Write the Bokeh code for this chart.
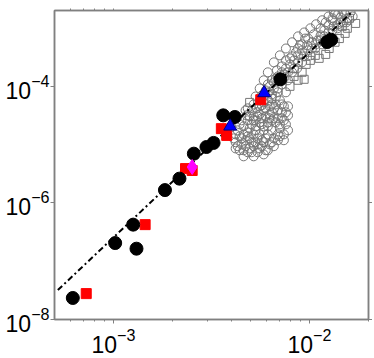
from bokeh.plotting import figure
from bokeh.models import Range1d, FixedTicker, LogAxis, LogTickFormatter, CustomJSTickFormatter
from bokeh.embed import file_html
from bokeh.resources import INLINE

# ---- data ----
x_major = [1e-3, 1e-2]
x_minor = [6e-4, 7e-4, 8e-4, 9e-4, 2e-3, 3e-3, 4e-3, 5e-3, 6e-3, 7e-3, 8e-3, 9e-3, 2e-2]
y_major = [1e-8, 1e-6, 1e-4]

fit_x = [5.2e-4, 1.65e-2]
fit_y = [3.2e-8, 1.9e-3]

black_x = [6.2e-4, 1.02e-3, 1.26e-3, 1.31e-3, 1.83e-3, 2.17e-3, 2.57e-3, 2.98e-3,
           3.24e-3, 3.63e-3, 4.16e-3, 7.1e-3, 1.23e-2, 1.29e-2]
black_y = [2.34e-8, 2.05e-7, 4.24e-7, 1.64e-7, 1.66e-6, 2.61e-6, 7.0e-6, 9.1e-6,
           1.07e-5, 3.18e-5, 2.98e-5, 1.32e-4, 5.75e-4, 6.3e-4]

red_x = [7.26e-4, 1.45e-3, 2.33e-3, 2.52e-3, 3.55e-3, 3.78e-3, 5.64e-3]
red_y = [2.78e-8, 4.24e-7, 3.88e-6, 3.6e-6, 1.88e-5, 1.44e-5, 5.9e-5]

blue_x = [3.94e-3, 5.87e-3]
blue_y = [2.06e-5, 7.7e-5]

magenta_x = [2.52e-3]
magenta_y = [4.13e-6]

gray_circle_x = [
    1.62e-2, 1.52e-2, 1.44e-2, 1.35e-2, 1.31e-2, 1.40e-2, 1.49e-2, 1.25e-2, 1.19e-2,
    1.31e-2, 1.14e-2, 1.23e-2, 1.39e-2, 1.56e-2, 1.10e-2, 1.16e-2, 1.03e-2, 1.07e-2,
    9.73e-3, 9.17e-3, 1.01e-2, 8.74e-3, 8.34e-3, 9.17e-3, 7.95e-3, 7.58e-3, 8.64e-3,
    8.15e-3, 7.40e-3, 7.06e-3, 7.77e-3, 7.23e-3, 6.82e-3, 8.95e-3, 9.50e-3,
    6.58e-3, 6.27e-3, 6.90e-3, 5.98e-3, 6.43e-3, 5.84e-3, 5.57e-3, 6.13e-3, 6.74e-3,
    5.71e-3, 5.38e-3, 5.84e-3, 6.27e-3, 7.06e-3, 7.58e-3, 7.40e-3,
    5.07e-3, 4.78e-3, 4.50e-3, 5.19e-3, 5.57e-3, 5.98e-3, 6.43e-3, 6.90e-3, 7.23e-3,
    6.74e-3, 6.13e-3, 5.57e-3, 5.07e-3, 4.61e-3, 4.30e-3, 4.84e-3, 5.31e-3, 5.84e-3,
    6.43e-3, 7.06e-3, 7.58e-3, 6.58e-3, 5.98e-3, 5.44e-3, 4.95e-3, 4.50e-3, 4.20e-3,
    4.72e-3, 5.19e-3, 5.71e-3, 6.27e-3, 4.40e-3, 4.84e-3, 5.44e-3, 5.98e-3, 4.20e-3,
    6.90e-3, 7.40e-3, 7.77e-3, 5.31e-3, 5.84e-3, 6.43e-3, 4.84e-3, 5.57e-3, 6.13e-3,
    5.07e-3, 4.61e-3,
    4.72e-3, 5.44e-3, 6.27e-3, 7.23e-3, 4.40e-3, 5.31e-3, 6.13e-3, 7.06e-3, 7.77e-3,
    4.10e-3, 4.72e-3, 5.19e-3, 5.71e-3, 6.90e-3, 7.40e-3, 4.50e-3, 4.95e-3, 5.44e-3,
    5.84e-3, 6.58e-3, 4.61e-3, 5.19e-3, 4.30e-3, 5.71e-3, 4.95e-3, 6.58e-3, 7.77e-3,
    5.84e-3, 6.43e-3, 6.90e-3, 6.13e-3, 6.58e-3, 5.57e-3, 7.40e-3, 7.77e-3, 8.34e-3,
    8.74e-3, 9.39e-3, 9.85e-3, 1.03e-2, 1.08e-2, 1.14e-2, 1.19e-2, 1.25e-2, 1.33e-2,
    1.44e-2, 1.54e-2, 1.66e-2, 8.74e-3, 8.15e-3, 7.58e-3, 7.23e-3, 6.90e-3, 6.43e-3,
    6.13e-3, 6.58e-3, 7.06e-3, 7.58e-3, 8.15e-3, 8.74e-3, 9.39e-3, 1.01e-2, 1.08e-2,
    1.16e-2, 1.25e-2, 1.33e-2, 5.84e-3, 5.57e-3, 5.31e-3,
    4.84e-3, 5.19e-3, 5.71e-3, 6.27e-3, 6.90e-3, 7.40e-3, 4.40e-3, 4.84e-3, 5.31e-3,
    5.84e-3, 6.43e-3, 7.06e-3, 4.61e-3, 5.07e-3, 5.57e-3, 6.13e-3, 4.20e-3, 5.44e-3,
    5.98e-3, 6.58e-3, 7.23e-3, 5.19e-3, 4.95e-3, 7.58e-3, 6.74e-3,
    5.71e-3, 6.13e-3, 6.74e-3, 7.23e-3, 7.95e-3, 8.54e-3, 9.17e-3, 9.85e-3, 1.05e-2,
    1.14e-2, 1.21e-2, 1.31e-2, 1.40e-2, 1.50e-2]
gray_circle_y = [
    1.86e-3, 1.72e-3, 1.52e-3, 1.72e-3, 1.36e-3, 1.16e-3, 1.25e-3, 1.11e-3, 9.1e-4,
    9.1e-4, 7.5e-4, 6.6e-4, 9.9e-4, 1.47e-3, 6.15e-4, 5.25e-4, 5.7e-4, 4.46e-4,
    5.05e-4, 4.14e-4, 3.40e-4, 3.40e-4, 2.79e-4, 2.58e-4, 2.38e-4, 2.03e-4, 2.03e-4,
    1.74e-4, 1.61e-4, 1.37e-4, 1.27e-4, 1.08e-4, 1.88e-4, 5.05e-4, 6.6e-4,
    1.17e-4, 1.00e-4, 9.2e-5, 8.5e-5, 7.3e-5, 6.7e-5, 5.75e-5, 5.75e-5, 6.7e-5,
    4.72e-5, 4.2e-5, 3.88e-5, 4.54e-5, 5.75e-5, 7.9e-5, 4.54e-5,
    3.88e-5, 3.18e-5, 2.61e-5, 3.06e-5, 3.31e-5, 3.06e-5, 3.58e-5, 3.88e-5, 2.83e-5,
    2.41e-5, 2.41e-5, 2.41e-5, 2.23e-5, 2.06e-5, 1.76e-5, 1.62e-5, 1.76e-5, 1.76e-5,
    1.76e-5, 1.90e-5, 2.23e-5, 1.28e-5, 1.28e-5, 1.28e-5, 1.28e-5, 1.28e-5, 1.10e-5,
    9.4e-6, 9.4e-6, 9.4e-6, 1.01e-5, 8.0e-6, 7.4e-6, 7.4e-6, 8.0e-6, 1.50e-5,
    1.19e-5, 1.50e-5, 3.18e-5, 2.61e-5, 2.06e-5, 2.61e-5, 2.61e-5, 1.50e-5, 1.50e-5,
    1.10e-5, 1.50e-5,
    3.88e-5, 3.58e-5, 3.31e-5, 3.58e-5, 2.23e-5, 2.06e-5, 2.06e-5, 2.23e-5, 1.76e-5,
    1.28e-5, 1.19e-5, 1.50e-5, 1.19e-5, 1.50e-5, 1.19e-5, 1.01e-5, 8.6e-6, 1.01e-5,
    6.8e-6, 9.4e-6, 6.3e-6, 6.3e-6, 9.4e-6, 2.83e-5, 1.90e-5, 2.83e-5, 4.54e-5,
    5.3e-5, 4.9e-5, 7.9e-5, 7.9e-5, 9.2e-5, 4.54e-5, 1.37e-4, 1.74e-4, 2.03e-4,
    2.58e-4, 3.27e-4, 4.14e-4, 4.46e-4, 5.25e-4, 6.15e-4, 7.2e-4, 8.4e-4, 1.07e-3,
    1.25e-3, 1.25e-3, 1.58e-3, 4.46e-4, 3.27e-4, 2.79e-4, 2.20e-4, 1.48e-4, 1.27e-4,
    1.74e-4, 2.58e-4, 3.40e-4, 4.46e-4, 5.7e-4, 7.2e-4, 8.4e-4, 9.9e-4, 1.16e-3,
    1.36e-3, 1.58e-3, 1.86e-3, 1.27e-4, 9.2e-5, 6.7e-5,
    4.2e-5, 2.61e-5, 2.23e-5, 2.83e-5, 2.83e-5, 2.61e-5, 1.39e-5, 1.39e-5, 1.10e-5,
    1.10e-5, 1.10e-5, 1.39e-5, 8.0e-6, 7.4e-6, 8.6e-6, 8.0e-6, 8.6e-6, 3.06e-5,
    4.2e-5, 4.2e-5, 4.9e-5, 4.9e-5, 3.06e-5, 3.58e-5, 4.9e-5,
    7.0e-5, 1.08e-4, 1.37e-4, 1.74e-4, 3.02e-4, 3.86e-4, 5.25e-4, 6.6e-4, 7.8e-4,
    9.9e-4, 1.25e-3, 1.47e-3, 1.72e-3, 1.86e-3]

gray_square_x = [1.72e-2, 1.60e-2, 1.56e-2, 1.52e-2, 1.42e-2, 1.35e-2, 1.21e-2, 1.12e-2,
                 1.07e-2, 1.01e-2, 9.61e-3, 9.17e-3, 9.39e-3, 8.74e-3, 8.34e-3, 7.95e-3,
                 4.95e-3, 6.43e-3, 1.47e-2, 1.26e-2]
gray_square_y = [1.20e-3, 1.47e-3, 9.9e-4, 8.1e-4, 6.6e-4, 5.7e-4, 3.53e-4, 3.02e-4,
                 3.40e-4, 2.79e-4, 2.38e-4, 1.74e-4, 1.32e-4, 1.27e-4, 1.48e-4, 1.00e-4,
                 5.3e-5, 6.2e-5, 1.07e-3, 4.46e-4]

# ---- figure ----
AX = "#808080"
p = figure(width=372, height=356, x_axis_type="log", y_axis_type="log",
           x_range=Range1d(5e-4, 2e-2), y_range=Range1d(1e-8, 2e-3),
           output_backend="svg", toolbar_location=None,
           min_border_left=54, min_border_top=10, min_border_right=0, min_border_bottom=37)
p.grid.visible = False
p.outline_line_color = AX
p.outline_line_width = 1.5
p.background_fill_color = "white"
p.border_fill_color = "white"

xt = FixedTicker(ticks=x_major, minor_ticks=x_minor)
yt = FixedTicker(ticks=y_major, minor_ticks=[])

bottom = p.below[0]
left = p.left[0]
bottom.ticker = xt
left.ticker = yt
bottom.formatter = LogTickFormatter()
left.formatter = LogTickFormatter()

top = LogAxis(ticker=xt, formatter=CustomJSTickFormatter(code="return ''"))
right = LogAxis(ticker=yt, formatter=CustomJSTickFormatter(code="return ''"))
p.add_layout(top, "above")
p.add_layout(right, "right")

for ax in (bottom, left, top, right):
    ax.axis_line_color = AX
    ax.axis_line_width = 1.5
    ax.major_tick_line_color = AX
    ax.minor_tick_line_color = AX
    ax.major_tick_in = 0
    ax.major_tick_out = 4
    ax.minor_tick_in = 0
    ax.minor_tick_out = 2
    ax.major_label_text_font = "Liberation Sans"
    ax.major_label_text_font_size = "23px"
    ax.major_label_text_color = "black"
    ax.major_label_standoff = 1

bottom.major_label_standoff = 4
top.major_tick_out = 2
top.major_label_standoff = 0
top.major_label_text_font_size = "1px"
right.major_label_standoff = 0
right.major_label_text_font_size = "1px"

# ---- glyphs ----
p.scatter(gray_square_x, gray_square_y, marker="square", size=8, fill_color=None,
          line_color="#777777", line_width=1)
p.scatter(gray_circle_x, gray_circle_y, marker="circle", size=9, fill_color=None,
          line_color="#777777", line_width=1)
p.line(fit_x, fit_y, line_color="black", line_width=2, line_dash="6 3 2 3")
p.scatter(red_x, red_y, marker="square", size=10, fill_color="#ff0000", line_color="#ff0000")
p.scatter(black_x, black_y, marker="circle", size=13, fill_color="black", line_color="black")
p.scatter(blue_x, blue_y, marker="triangle", size=13, fill_color="#0000ff",
          line_color="#00007f", line_width=1)
p.scatter(magenta_x, magenta_y, marker="diamond", size=15, fill_color="#ff00ff",
          line_color="#ff00ff")

open("out.html", "w").write(file_html(p, INLINE))
